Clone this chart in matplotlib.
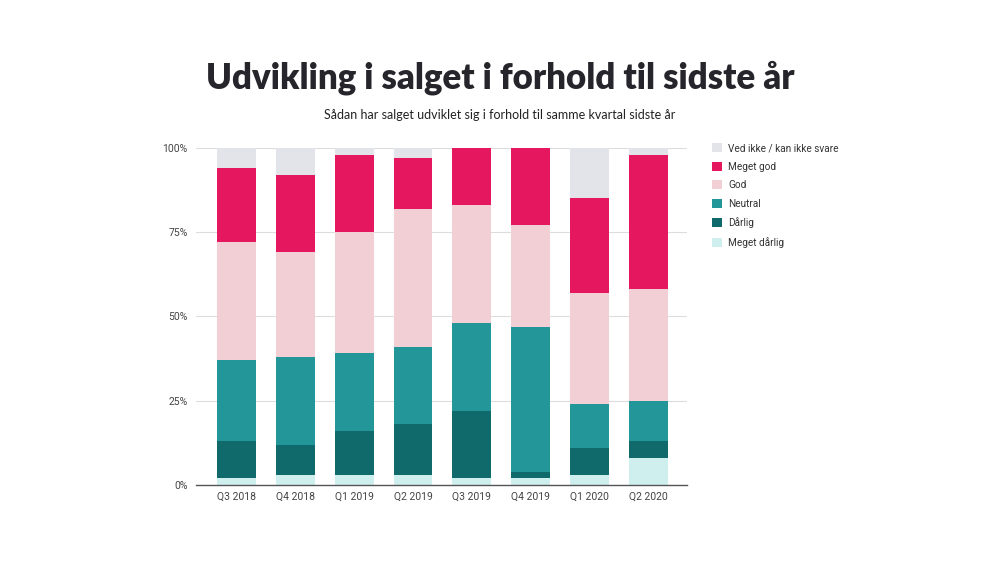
import numpy as np
import matplotlib.pyplot as plt
from matplotlib.patches import Patch

quarters = ["Q3 2018", "Q4 2018", "Q1 2019", "Q2 2019", "Q3 2019", "Q4 2019", "Q1 2020", "Q2 2020"]

# stacked from the bottom up
meget_daarlig = [2, 3, 3, 3, 2, 2, 3, 8]
daarlig = [11, 9, 13, 15, 20, 2, 8, 5]
neutral = [24, 26, 23, 23, 26, 43, 13, 12]
god = [35, 31, 36, 41, 35, 30, 33, 33]
meget_god = [22, 23, 23, 15, 17, 23, 28, 40]
ved_ikke = [6, 8, 2, 3, 0, 0, 15, 2]

series = [
    ("Meget dårlig", meget_daarlig, "#cfeeee"),
    ("Dårlig", daarlig, "#10696a"),
    ("Neutral", neutral, "#229699"),
    ("God", god, "#f2cfd5"),
    ("Meget god", meget_god, "#e5175f"),
    ("Ved ikke / kan ikke svare", ved_ikke, "#e3e4ea"),
]

plt.rcParams['font.family'] = ['Roboto', 'DejaVu Sans']

fig = plt.figure(figsize=(10, 5.62), dpi=100)
ax = fig.add_axes([0.196, 0.137, 0.491, 0.600])

x = np.arange(len(quarters))
bottom = np.zeros(len(quarters))
for name, vals, col in series:
    ax.bar(x, vals, width=0.66, bottom=bottom, color=col, zorder=2)
    bottom += np.array(vals)

ax.set_xlim(-0.69, 7.66)
ax.set_ylim(0, 100)
ax.set_yticks([0, 25, 50, 75, 100])
ax.set_yticklabels(["0%", "25%", "50%", "75%", "100%"])
ax.set_xticks(x)
ax.set_xticklabels(quarters)
ax.tick_params(axis='both', length=0, labelsize=7.5, colors='#444444')
ax.tick_params(axis='y', pad=6)
ax.tick_params(axis='x', pad=5)
ax.grid(axis='y', color='#dddddd', linewidth=0.8, zorder=0)
for s in ['top', 'right', 'left']:
    ax.spines[s].set_visible(False)
ax.spines['bottom'].set_color('#555555')
ax.spines['bottom'].set_linewidth(1.0)
ax.spines['bottom'].set_zorder(3)

handles = [Patch(facecolor=col, label=name) for name, vals, col in series[::-1]]
fig.legend(handles=handles, loc='upper left', bbox_to_anchor=(0.703, 0.761),
           frameon=False, fontsize=7.2, handlelength=1.0, handleheight=1.0,
           handletextpad=0.65, labelspacing=0.85, labelcolor='#333333')

fig.text(0.5, 0.862, "Udvikling i salget i forhold til sidste år", ha='center', va='center',
         fontsize=25, fontweight='heavy', family=['Lato', 'DejaVu Sans'], color='#25252b')
fig.text(0.5, 0.796, "Sådan har salget udviklet sig i forhold til samme kvartal sidste år",
         ha='center', va='center', fontsize=9, family=['Lato', 'DejaVu Sans'], color='#222222')

fig.savefig("out.png", dpi=100, facecolor='white')
